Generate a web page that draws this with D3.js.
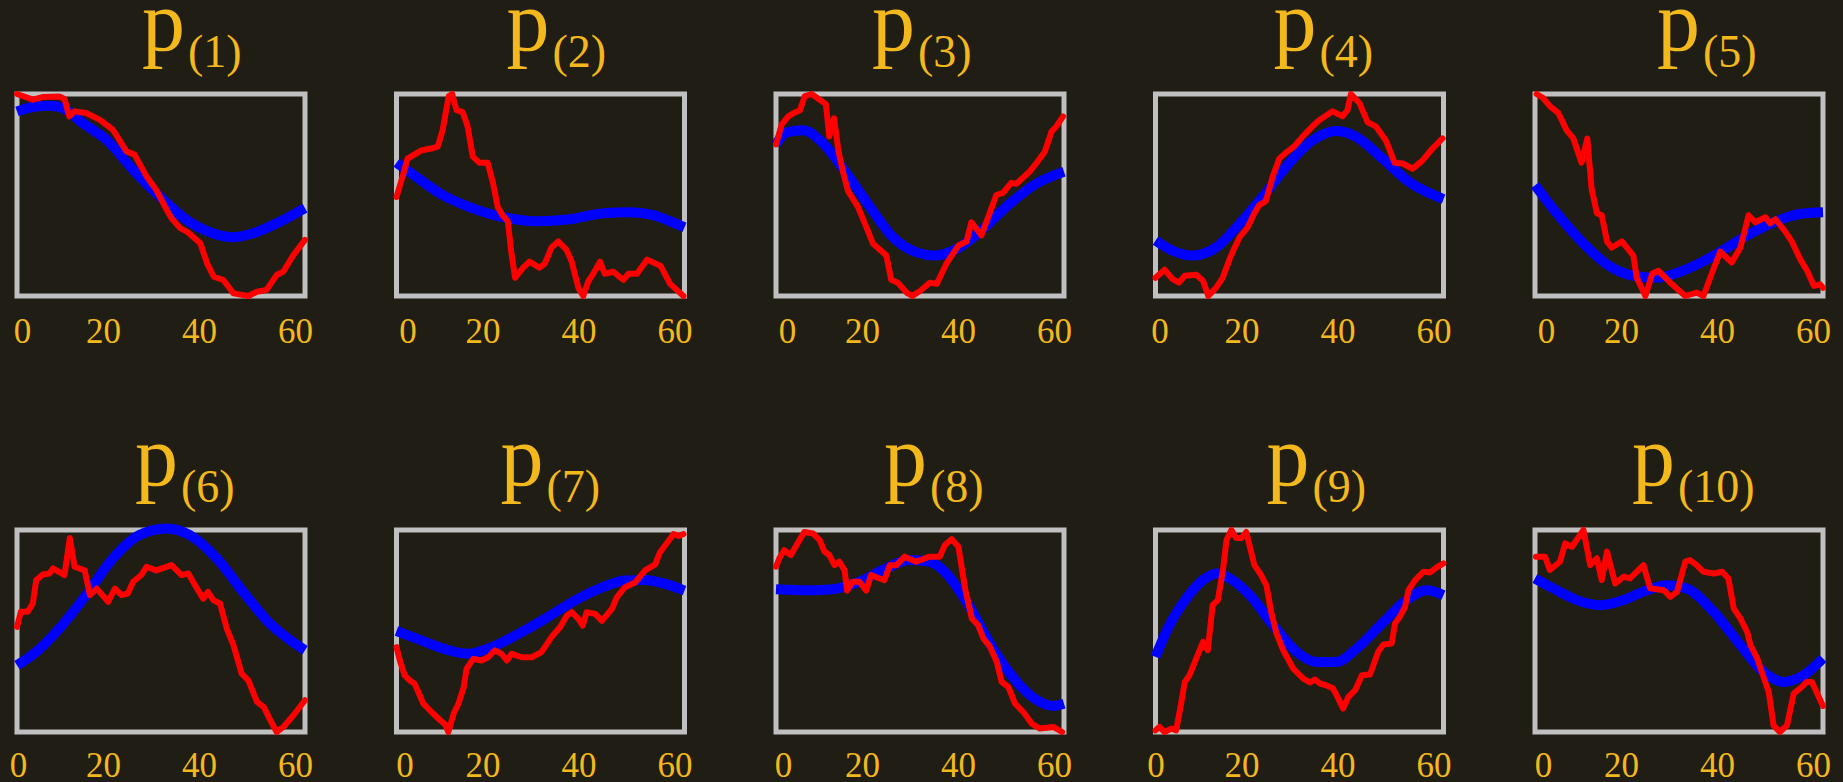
<!DOCTYPE html>
<html>
<head>
<meta charset="utf-8">
<script src="https://cdn.jsdelivr.net/npm/d3@7"></script>
<style>
  html, body { margin: 0; padding: 0; background: #201d14; }
  svg { display: block; }
</style>
</head>
<body>
<div id="chart"></div>
<script>
/* ============================================
   TEN PANELS: RED (observed) VS BLUE (smooth)
   x runs 0..60, y is normalised 0 (bottom) .. 1 (top)
   ============================================ */

const panelLabels = ['1', '2', '3', '4', '5', '6', '7', '8', '9', '10'];
const tickValues = [0, 20, 40, 60];

// red traces, [x, y]
const red1 = [[0,1.0],[3.3,0.972],[5.3,0.985],[8.8,0.988],[9.9,0.975],[10.9,0.889],[12,0.914],[14.4,0.906],[17.2,0.873],[20,0.823],[22.8,0.716],[24.5,0.7],[27,0.592],[29,0.526],[31.2,0.426],[32.2,0.385],[34,0.336],[35.4,0.319],[38.2,0.261],[39.6,0.162],[41,0.096],[43,0.079],[45.1,0.013],[48.2,0.0],[50,0.021],[52,0.03],[54.1,0.104],[55.5,0.121],[57.6,0.203],[60,0.278]];
const red2 = [[0,0.49],[1.25,0.59],[2.3,0.68],[3.7,0.70],[5.1,0.72],[7.2,0.73],[8.6,0.74],[9.6,0.82],[10.9,0.99],[11.6,1.0],[12.5,0.92],[13.8,0.91],[14.8,0.84],[15.9,0.69],[17.3,0.66],[19,0.66],[20.1,0.56],[21.1,0.44],[22.1,0.40],[23.2,0.37],[23.9,0.22],[24.7,0.09],[26.4,0.14],[27.7,0.17],[29.8,0.14],[30.9,0.16],[32.3,0.24],[33.7,0.27],[35.4,0.23],[36.5,0.17],[37.9,0.04],[38.9,0.0],[40,0.075],[41,0.11],[42.4,0.17],[43.4,0.11],[45.2,0.12],[46.2,0.10],[47.3,0.08],[48.3,0.11],[50.1,0.11],[52.2,0.18],[55,0.15],[57,0.06],[58.4,0.03],[59.8,0.0]];
const red3 = [[0,0.75],[1.2,0.85],[2.6,0.89],[3.6,0.905],[5,0.92],[6,0.99],[7.4,1.0],[9.2,0.97],[10.4,0.95],[11.1,0.79],[12.1,0.88],[13,0.72],[14,0.61],[15,0.52],[17.1,0.44],[18.5,0.36],[20.2,0.26],[23,0.2],[24,0.08],[25.4,0.066],[27.2,0.017],[28.4,0.0],[30,0.025],[32.1,0.066],[33.5,0.06],[35.5,0.16],[38,0.25],[39.7,0.27],[40.7,0.365],[42.8,0.3],[44.5,0.41],[45.9,0.5],[47.3,0.51],[49,0.56],[50.1,0.556],[52.8,0.615],[54.2,0.656],[56,0.714],[57.4,0.814],[58.4,0.839],[59.8,0.889]];
const red4 = [[0,0.09],[1.9,0.13],[3.6,0.083],[4.9,0.066],[6.1,0.1],[8.5,0.105],[9.9,0.075],[11,0.0],[12.6,0.04],[14,0.09],[15.4,0.18],[16.1,0.22],[17.5,0.29],[19.2,0.34],[20.6,0.41],[21.6,0.45],[23,0.47],[24.4,0.59],[25.8,0.68],[27.2,0.71],[28.9,0.74],[30.7,0.79],[32.7,0.84],[34.1,0.87],[36.9,0.914],[39,0.89],[40,0.92],[40.7,1.0],[42.5,0.955],[44.2,0.86],[45.9,0.84],[48,0.77],[49.8,0.66],[51.5,0.656],[53.6,0.63],[55.6,0.67],[57.7,0.73],[59.8,0.78]];
const red5 = [[0.35,1.0],[1.7,0.98],[3.1,0.94],[4.9,0.905],[6.6,0.82],[8,0.78],[9.7,0.66],[10.9,0.78],[11.8,0.53],[12.9,0.41],[13.9,0.4],[15,0.27],[16,0.24],[18.1,0.27],[20.5,0.2],[21.2,0.09],[23,0.0],[24.4,0.11],[25.7,0.125],[28.2,0.066],[31.3,0.0],[33.7,0.017],[35.1,0.0],[36.5,0.09],[38.6,0.22],[41,0.166],[42.8,0.24],[44.5,0.4],[45.9,0.365],[48,0.39],[49,0.36],[50.1,0.38],[52.1,0.32],[53.5,0.27],[55.3,0.18],[56.7,0.125],[58.1,0.05],[59.4,0.058],[60,0.04]];
const red6 = [[0,0.52],[0.8,0.595],[2.2,0.595],[3.3,0.636],[4,0.752],[5.4,0.78],[6.8,0.785],[7.5,0.81],[9.9,0.777],[11,0.96],[12,0.818],[14.1,0.8],[15.2,0.678],[16.6,0.71],[19,0.645],[20.4,0.71],[21.8,0.678],[23.1,0.686],[24.2,0.744],[25.9,0.777],[27,0.818],[29,0.8],[32.2,0.826],[34.3,0.777],[35.7,0.785],[37.1,0.727],[38.8,0.66],[39.8,0.694],[40.9,0.653],[42.3,0.636],[43.7,0.512],[45.1,0.43],[46.8,0.289],[48.2,0.256],[50,0.149],[51.4,0.124],[52.8,0.058],[54.1,0.0],[55.5,0.025],[57.6,0.083],[60,0.157]];
const red7 = [[0,0.42],[0.7,0.354],[1.7,0.28],[2.8,0.255],[3.8,0.239],[5.6,0.14],[7.3,0.099],[9.1,0.058],[10.1,0.038],[10.8,0.0],[11.9,0.09],[12.9,0.14],[14,0.222],[14.6,0.313],[16,0.362],[17.7,0.354],[19.1,0.37],[20.5,0.404],[21.9,0.387],[23,0.354],[24,0.387],[26.1,0.37],[28.2,0.37],[30.2,0.395],[32.3,0.47],[34.1,0.52],[35.5,0.577],[36.5,0.593],[37.9,0.56],[38.8,0.527],[39.6,0.593],[41.4,0.585],[42.8,0.55],[44.9,0.61],[45.9,0.667],[47.6,0.717],[49.7,0.74],[51.8,0.8],[53.9,0.83],[54.9,0.89],[56.7,0.947],[57.7,0.98],[58.8,0.97],[59.8,0.98]];
const red8 = [[0,0.818],[0.7,0.86],[1.7,0.9],[3.1,0.876],[4.5,0.934],[5.9,0.99],[7.7,0.983],[9.1,0.95],[10.1,0.893],[11.1,0.876],[12.2,0.826],[13.2,0.843],[14.3,0.8],[14.8,0.7],[16,0.744],[17.4,0.744],[18.8,0.7],[19.8,0.777],[21.6,0.76],[22.6,0.752],[23.7,0.826],[25.1,0.826],[26.8,0.868],[29.2,0.843],[32,0.868],[34.1,0.868],[35.2,0.926],[36.6,0.955],[38,0.917],[39.4,0.71],[40.8,0.562],[42.1,0.529],[43.2,0.463],[44.6,0.421],[46,0.347],[47,0.248],[48.4,0.223],[49.8,0.14],[51.5,0.1],[53.3,0.041],[55,0.017],[57.8,0.025],[59.6,0.0]];
const red9 = [[0,0.008],[0.8,0.025],[1.9,0.0],[3.3,0.017],[4.3,0.008],[5.4,0.149],[6.1,0.248],[7.1,0.281],[8.5,0.364],[9.9,0.446],[10.9,0.405],[11.9,0.628],[13,0.653],[14.1,0.81],[14.8,0.95],[15.8,1.0],[16.8,0.96],[17.9,0.96],[18.9,0.99],[20.6,0.826],[22,0.777],[23.1,0.727],[24.1,0.595],[25.2,0.488],[26.6,0.405],[28.7,0.314],[30.8,0.264],[32.2,0.245],[33.2,0.26],[34.3,0.24],[35.6,0.231],[37,0.215],[38.1,0.165],[39.1,0.116],[40.2,0.174],[41.6,0.207],[43,0.281],[44.7,0.285],[46.4,0.397],[47.5,0.433],[49.2,0.438],[49.9,0.537],[50.9,0.57],[52,0.62],[52.7,0.702],[54.1,0.752],[55.8,0.793],[57.2,0.79],[58.6,0.815],[60,0.835]];
const red10 = [[0.2,0.868],[2.1,0.868],[3.1,0.802],[5.2,0.843],[6.3,0.934],[7.7,0.917],[10.1,1.0],[11.5,0.826],[12.9,0.86],[13.9,0.752],[15,0.893],[16.7,0.735],[18.5,0.769],[19.8,0.76],[22.6,0.826],[24,0.711],[26.8,0.702],[28.2,0.669],[29.6,0.694],[31.3,0.843],[32.3,0.851],[33.7,0.826],[35.1,0.793],[37.2,0.785],[39,0.793],[40.3,0.76],[41.4,0.612],[42.8,0.562],[44.2,0.496],[44.9,0.43],[46.3,0.364],[47.6,0.273],[48.7,0.198],[49.7,0.033],[51,0.0],[52.5,0.033],[53.9,0.19],[55.6,0.223],[56.6,0.248],[57.7,0.248],[60,0.129]];

// blue smooth fits, [x, y]
const blue1 = [[0,0.914],[3.3,0.936],[6.75,0.942],[9.5,0.931],[13.7,0.856],[18.6,0.774],[24.2,0.625],[29.7,0.493],[35.3,0.377],[40.8,0.311],[45,0.291],[49.2,0.311],[54.1,0.36],[60,0.435]];
const blue2 = [[0,0.66],[4.7,0.58],[9.6,0.5],[15.2,0.44],[22.2,0.39],[29.1,0.37],[36.1,0.38],[43.1,0.41],[48.7,0.415],[53.5,0.4],[57,0.37],[60,0.34]];
const blue3 = [[0,0.75],[2.2,0.81],[5.7,0.82],[9.8,0.756],[14.7,0.606],[19.6,0.44],[24.4,0.29],[29.3,0.216],[33.1,0.2],[37.6,0.233],[43.1,0.332],[48.7,0.457],[54.2,0.556],[60,0.615]];
const blue4 = [[0,0.274],[3.6,0.224],[7.8,0.2],[12.6,0.24],[17.5,0.357],[22.3,0.49],[27.2,0.64],[32.7,0.77],[37.6,0.817],[41.7,0.79],[47.3,0.68],[52.8,0.565],[60,0.48]];
const blue5 = [[0,0.548],[4.5,0.41],[10.1,0.26],[14.9,0.158],[20.5,0.1],[25.4,0.09],[31.6,0.133],[37.9,0.208],[44.2,0.3],[49.7,0.365],[55.3,0.407],[60,0.415]];
const blue6 = [[0,0.33],[4,0.397],[8.8,0.512],[14.4,0.678],[20,0.86],[25.5,0.975],[31.1,1.008],[36,0.975],[41.6,0.86],[47.1,0.694],[52.7,0.537],[60,0.405]];
const blue7 = [[0,0.5],[4.5,0.46],[10.1,0.41],[15,0.387],[19.8,0.42],[25.4,0.486],[30.9,0.56],[36.5,0.642],[42.1,0.708],[47.6,0.75],[51.8,0.753],[56,0.733],[60,0.7]];
const blue8 = [[0,0.707],[7,0.702],[11.8,0.707],[17.4,0.744],[23,0.81],[27.8,0.851],[32,0.843],[35.5,0.785],[39.7,0.645],[45.2,0.413],[50.8,0.231],[55,0.149],[57.8,0.129],[60,0.14]];
const blue9 = [[0,0.372],[2.9,0.529],[6.4,0.661],[9.9,0.752],[12.7,0.785],[15.5,0.76],[19.6,0.678],[24.5,0.529],[29.4,0.397],[33.5,0.347],[37.7,0.347],[41.9,0.413],[47.5,0.545],[52.3,0.653],[56.5,0.702],[60,0.678]];
const blue10 = [[0,0.76],[3.8,0.711],[8.7,0.653],[13.6,0.628],[18.4,0.653],[23.3,0.702],[27.5,0.727],[31.6,0.711],[37.2,0.595],[42.8,0.43],[47.6,0.298],[51.8,0.248],[55.9,0.281],[60,0.364]];

const redSeries = [red1, red2, red3, red4, red5, red6, red7, red8, red9, red10];
const blueSeries = [blue1, blue2, blue3, blue4, blue5, blue6, blue7, blue8, blue9, blue10];

// layout
const W = 1843, H = 782;
const colLeft = [17, 396.5, 776, 1155.5, 1535];
const rowTop = [94, 530];
const boxW = 288, boxH = 202;
const titleBase = [50, 485];
const titleLeft = [125, 110, 96, 118, 122, 118, 104, 108, 111, 97]; // "p" left edge, from box left
const zeroShift = [5, 11, 11, 4, 11, 1, 8, 7, 0, 8];                 // "0" label centre, from box left
const tickBase = [343, 777];

const gold = '#f2b81c';
const serif = '"Liberation Serif", "DejaVu Serif", serif';

const svg = d3.select('#chart')
  .append('svg')
  .attr('width', W)
  .attr('height', H);

svg.append('rect')
  .attr('width', W)
  .attr('height', H)
  .attr('fill', '#201d14');

panelLabels.forEach((lab, i) => {
  const row = Math.floor(i / 5), col = i % 5;
  const left = colLeft[col], top = rowTop[row];

  const x = d3.scaleLinear().domain([0, 60]).range([0, boxW]);
  const y = d3.scaleLinear().domain([0, 1]).range([boxH, 0]);

  const g = svg.append('g')
    .attr('transform', `translate(${left},${top})`);

  // frame
  g.append('rect')
    .attr('width', boxW)
    .attr('height', boxH)
    .attr('fill', 'none')
    .attr('stroke', '#c0c0c0')
    .attr('stroke-width', 5);

  const blueLine = d3.line()
    .x(d => x(d[0]))
    .y(d => y(d[1]))
    .curve(d3.curveMonotoneX);

  g.append('path')
    .datum(blueSeries[i])
    .attr('fill', 'none')
    .attr('stroke', '#0000ff')
    .attr('stroke-width', 10)
    .attr('d', blueLine);

  const redLine = d3.line()
    .x(d => x(d[0]))
    .y(d => y(d[1]));

  g.append('path')
    .datum(redSeries[i])
    .attr('fill', 'none')
    .attr('stroke', '#ff0000')
    .attr('stroke-width', 6)
    .attr('stroke-linejoin', 'round')
    .attr('stroke-linecap', 'round')
    .attr('d', redLine);

  // x tick labels (the source draws them shifted left of their ticks)
  const axis = g.append('g')
    .attr('transform', `translate(0,${tickBase[row] - top})`)
    .call(d3.axisBottom(x).tickValues(tickValues).tickSize(0).tickPadding(0));
  axis.select('.domain').remove();
  axis.selectAll('text')
    .attr('y', 0)
    .attr('dy', 0)
    .attr('dx', d => d === 0 ? zeroShift[i] : -10)
    .style('font-family', serif)
    .style('font-size', '35px')
    .attr('fill', gold);

  // title p_(k)
  const t = svg.append('text')
    .attr('x', left + titleLeft[i])
    .attr('y', titleBase[row])
    .attr('fill', gold)
    .style('font-family', serif);
  t.append('tspan')
    .style('font-size', '86px')
    .text('p');
  t.append('tspan')
    .attr('dy', 17)
    .attr('dx', 3)
    .style('font-size', '46px')
    .text(`(${lab})`);
});
</script>
</body>
</html>
